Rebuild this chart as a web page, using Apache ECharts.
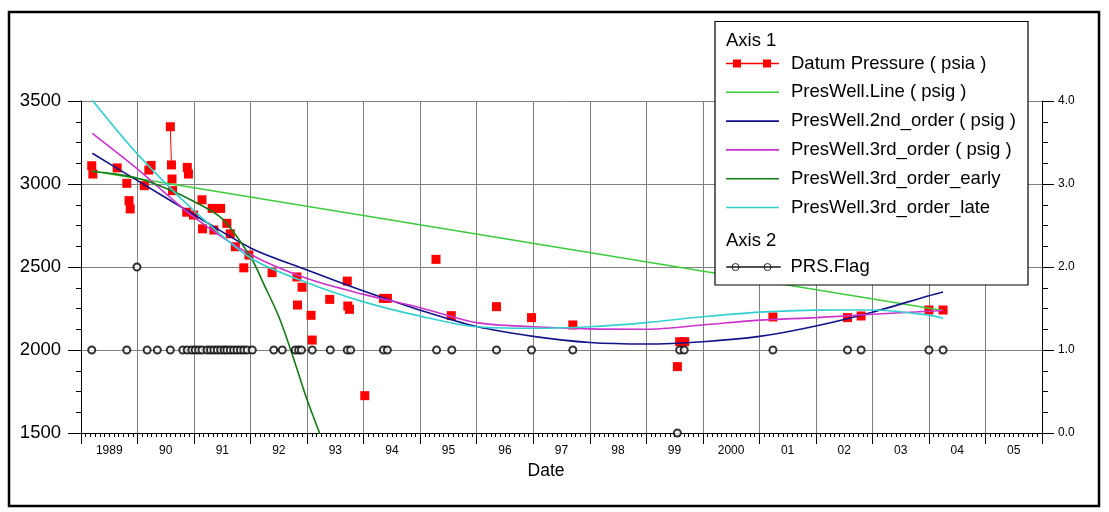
<!DOCTYPE html>
<html>
<head>
<meta charset="utf-8">
<script src="https://cdn.jsdelivr.net/npm/echarts@6/dist/echarts.min.js"></script>
<style>
  html, body { margin: 0; padding: 0; background: #fff; }
  #chart { width: 1109px; height: 512px; }
</style>
</head>
<body>
<div id="chart"></div>
<script>
// ---------------- data ----------------
// measured datum pressure (decimal year, psia)
const datumDate = [1989.19, 1989.21, 1989.64, 1989.81, 1989.85, 1989.87, 1990.12, 1990.20, 1990.24,
  1990.58, 1990.60, 1990.61, 1990.62, 1990.87, 1990.88, 1990.90, 1990.99, 1991.14, 1991.15,
  1991.32, 1991.35, 1991.47, 1991.58, 1991.64, 1991.73, 1991.88, 1991.97, 1992.38, 1992.82,
  1992.83, 1992.91, 1993.07, 1993.09, 1993.40, 1993.71, 1993.72, 1993.75, 1994.02, 1994.35,
  1994.42, 1995.28, 1995.55, 1996.35, 1996.97, 1997.70, 1999.55, 1999.59, 1999.68, 2001.24,
  2002.56, 2002.80, 2004.00, 2004.25];
const datumPsia = [3110, 3060, 3097, 3004, 2900, 2850, 2990, 3084, 3112,
  3345, 3115, 3030, 2960, 2830, 3100, 3060, 2813, 2905, 2730,
  2853, 2723, 2853, 2763, 2700, 2622, 2495, 2572, 2466, 2440,
  2271, 2378, 2209, 2060, 2305, 2415, 2265, 2245, 1725, 2311,
  2311, 2546, 2207, 2261, 2195, 2151, 1900, 2050, 2050, 2199,
  2195, 2205, 2241, 2241];
// indices of readings that are joined by a line to the following reading
const datumJoinNext = [9];

// fitted trends (decimal year, psig)
const lineFitDate = [1989.19, 2004.25];
const lineFitPsig = [3078, 2238];

const fitDate = [1989.2, 1990, 1991, 1992, 1993, 1994, 1995, 1996, 1997, 1998, 1999, 2000, 2001, 2002, 2003, 2004, 2004.25];
const secondOrderPsig = [3185, 3020, 2815, 2615, 2482, 2355, 2240, 2141, 2082, 2045, 2036, 2050, 2082, 2145, 2228, 2327, 2350];
const thirdOrderPsig  = [3305, 3090, 2800, 2575, 2430, 2335, 2255, 2165, 2140, 2127, 2125, 2151, 2180, 2195, 2215, 2233, 2238];
const lateOrderPsig   = [3505, 3180, 2839, 2554, 2405, 2290, 2204, 2140, 2131, 2140, 2165, 2200, 2228, 2240, 2241, 2210, 2191];

const earlyDate = [1989.2, 1989.5, 1990, 1990.5, 1991, 1991.5, 1992, 1992.25, 1992.5, 1992.75, 1993, 1993.3];
const earlyPsig = [3075, 3065, 3035, 2975, 2895, 2790, 2560, 2385, 2200, 1960, 1700, 1430];

// PRS flag (decimal year, flag value)
const flagDate = [1989.19, 1989.81, 1989.99, 1990.17, 1990.35, 1990.58, 1990.80, 1990.88, 1990.96, 1991.02,
  1991.08, 1991.14, 1991.23, 1991.29, 1991.35, 1991.41, 1991.47, 1991.53, 1991.58, 1991.64,
  1991.70, 1991.76, 1991.82, 1991.88, 1991.94, 1992.03, 1992.41, 1992.56, 1992.79, 1992.85,
  1992.90, 1993.09, 1993.41, 1993.71, 1993.77, 1994.35, 1994.42, 1995.29, 1995.56, 1996.35,
  1996.97, 1997.70, 1999.55, 1999.59, 1999.67, 2001.24, 2002.56, 2002.80, 2004.00, 2004.25];
const flagValue = [1, 1, 2, 1, 1, 1, 1, 1, 1, 1,
  1, 1, 1, 1, 1, 1, 1, 1, 1, 1,
  1, 1, 1, 1, 1, 1, 1, 1, 1, 1,
  1, 1, 1, 1, 1, 1, 1, 1, 1, 1,
  1, 1, 0, 1, 1, 1, 1, 1, 1, 1];

// axis ranges
const yearMin = 1989, yearMax = 2006;
const psiMin = 1500, psiMax = 3500, psiStep = 500, psiMinorStep = 125;
const flagMin = 0, flagMax = 4, flagMinorStep = 0.25;
const monthsPerYear = 12;

// ---------------- chart ----------------
const FONT = '"Liberation Sans", Arial, sans-serif';
const pairs = (xs, ys) => xs.map((x, i) => [x, ys[i]]);

const datumData = [];
datumDate.forEach((d, i) => {
  datumData.push([d, datumPsia[i]]);
  if (!datumJoinNext.includes(i)) datumData.push([d, '-']);
});

const datumIcon = 'path://M0,3.2L53,3.2L53,4.8L0,4.8Z M7,0L15,0L15,8L7,8Z M37,0L45,0L45,8L37,8Z';
const plainIcon = 'path://M0,0L53,0L53,1.6L0,1.6Z';
const flagIcon = 'path://M0,3.5L54,3.5L54,4L0,4Z M5.5,3.75a3.5,3.5 0 1,0 7,0a3.5,3.5 0 1,0 -7,0Z M37.5,3.75a3.5,3.5 0 1,0 7,0a3.5,3.5 0 1,0 -7,0Z';

const chart = echarts.init(document.getElementById('chart'), null, { renderer: 'canvas' });

const lineSeries = (name, color, data, z) => ({
  name, type: 'line', data, color, symbol: 'none', smooth: 0.3,
  lineStyle: { width: 1.6, color }, z, silent: true
});

// an axis that only carries small tick marks (month / minor value ticks)
const tickOnlyAxis = (extra, len) => Object.assign({
  type: 'value', silent: true,
  axisLine: { show: false, onZero: false },
  axisTick: { show: true, length: len, lineStyle: { color: '#000' } },
  splitLine: { show: false },
  axisLabel: { show: false }
}, extra);

chart.setOption({
  animation: false,
  backgroundColor: '#ffffff',
  grid: { left: 81, right: 67, top: 101, bottom: 79, containLabel: false },
  xAxis: [
    {
      type: 'value', min: yearMin, max: yearMax, interval: 1, position: 'bottom',
      name: 'Date', nameLocation: 'middle', nameGap: 27,
      nameTextStyle: { fontFamily: FONT, fontSize: 17.5, color: '#000', padding: [0, 31, 0, 0] },
      axisLine: { show: true, onZero: false, lineStyle: { color: '#000', width: 1 } },
      axisTick: { show: true, length: 11, lineStyle: { color: '#000' } },
      splitLine: { show: true, lineStyle: { color: '#808080', width: 1 } },
      axisLabel: {
        margin: 12,
        formatter: v => {
          const y = Math.round(v);
          if (y >= yearMax) return '';
          const s = (y === 1989 || y === 2000) ? String(y) : String(y % 100).padStart(2, '0');
          return '{y|' + s + '}';
        },
        rich: { y: { padding: [0, 0, 0, 56.5], fontFamily: FONT, fontSize: 12, color: '#000' } }
      }
    },
    tickOnlyAxis({ min: yearMin, max: yearMax, interval: 1 / monthsPerYear, position: 'bottom' }, 4)
  ],
  yAxis: [
    {
      type: 'value', min: psiMin, max: psiMax, interval: psiStep, position: 'left',
      axisLine: { show: true, onZero: false, lineStyle: { color: '#000', width: 1 } },
      axisTick: { show: true, length: 13, lineStyle: { color: '#000' } },
      splitLine: { show: true, lineStyle: { color: '#808080', width: 1 } },
      axisLabel: { margin: 20, fontFamily: FONT, fontSize: 18.5, color: '#000', formatter: v => String(v) }
    },
    {
      type: 'value', min: flagMin, max: flagMax, interval: 1, position: 'right',
      axisLine: { show: true, onZero: false, lineStyle: { color: '#000', width: 1 } },
      axisTick: { show: true, length: 12, lineStyle: { color: '#000' } },
      splitLine: { show: false },
      axisLabel: { margin: 16, fontFamily: FONT, fontSize: 12, color: '#000', formatter: v => v.toFixed(1) }
    },
    tickOnlyAxis({ min: psiMin, max: psiMax, interval: psiMinorStep, position: 'left' }, 5),
    tickOnlyAxis({ min: flagMin, max: flagMax, interval: flagMinorStep, position: 'right' }, 6)
  ],
  legend: [
    {
      orient: 'vertical', left: 726, top: 53.5, padding: 0, itemGap: 8.8,
      itemWidth: 53, itemHeight: 8, selectedMode: false, z: 110,
      textStyle: { fontFamily: FONT, fontSize: 18.5, lineHeight: 20, color: '#000', padding: [0, 0, 0, 7] },
      data: [
        { name: 'Datum Pressure ( psia )', icon: datumIcon },
        { name: 'PresWell.Line ( psig )', icon: plainIcon },
        { name: 'PresWell.2nd_order ( psig )', icon: plainIcon },
        { name: 'PresWell.3rd_order ( psig )', icon: plainIcon },
        { name: 'PresWell.3rd_order_early', icon: plainIcon },
        { name: 'PresWell.3rd_order_late', icon: plainIcon }
      ]
    },
    {
      orient: 'vertical', left: 726, top: 257, padding: 0,
      itemWidth: 54, itemHeight: 7, selectedMode: false, z: 110,
      textStyle: { fontFamily: FONT, fontSize: 18.5, lineHeight: 20, color: '#000', padding: [0, 0, 0, 5] },
      data: [
        { name: 'PRS.Flag', icon: flagIcon, itemStyle: { color: '#ffffff', borderColor: '#000000', borderWidth: 1 } }
      ]
    }
  ],
  graphic: [
    {
      type: 'rect', z: 100, silent: true,
      shape: { x: 715, y: 21.5, width: 313, height: 263.5 },
      style: { fill: '#ffffff', stroke: '#000000', lineWidth: 1.2 }
    },
    {
      type: 'text', z: 105, silent: true, left: 726, top: 31,
      style: { text: 'Axis 1', fontFamily: FONT, fontSize: 18.5, fill: '#000' }
    },
    {
      type: 'text', z: 105, silent: true, left: 726, top: 231,
      style: { text: 'Axis 2', fontFamily: FONT, fontSize: 18.5, fill: '#000' }
    },
    {
      type: 'rect', z: 120, silent: true,
      shape: { x: 9, y: 12, width: 1090, height: 494 },
      style: { fill: 'none', stroke: '#000000', lineWidth: 2.5 }
    }
  ],
  series: [
    {
      name: 'Datum Pressure ( psia )', type: 'line', data: datumData, color: '#ff0000',
      symbol: 'rect', symbolSize: 9, showAllSymbol: true, connectNulls: false,
      itemStyle: { color: '#ff0000' }, lineStyle: { width: 1, color: '#ff0000' }, z: 2, silent: true
    },
    lineSeries('PresWell.Line ( psig )', '#3ccc3c', pairs(lineFitDate, lineFitPsig), 3),
    lineSeries('PresWell.2nd_order ( psig )', '#12128a', pairs(fitDate, secondOrderPsig), 3),
    lineSeries('PresWell.3rd_order ( psig )', '#cc33cc', pairs(fitDate, thirdOrderPsig), 3),
    lineSeries('PresWell.3rd_order_early', '#147a14', pairs(earlyDate, earlyPsig), 3),
    lineSeries('PresWell.3rd_order_late', '#33d0d0', pairs(fitDate, lateOrderPsig), 3),
    {
      name: 'PRS.Flag', type: 'scatter', yAxisIndex: 1, data: pairs(flagDate, flagValue),
      symbol: 'emptyCircle', symbolSize: 7, color: '#000000',
      itemStyle: { color: '#000000', borderWidth: 1.2 }, z: 4, silent: true
    }
  ]
});
</script>
</body>
</html>
